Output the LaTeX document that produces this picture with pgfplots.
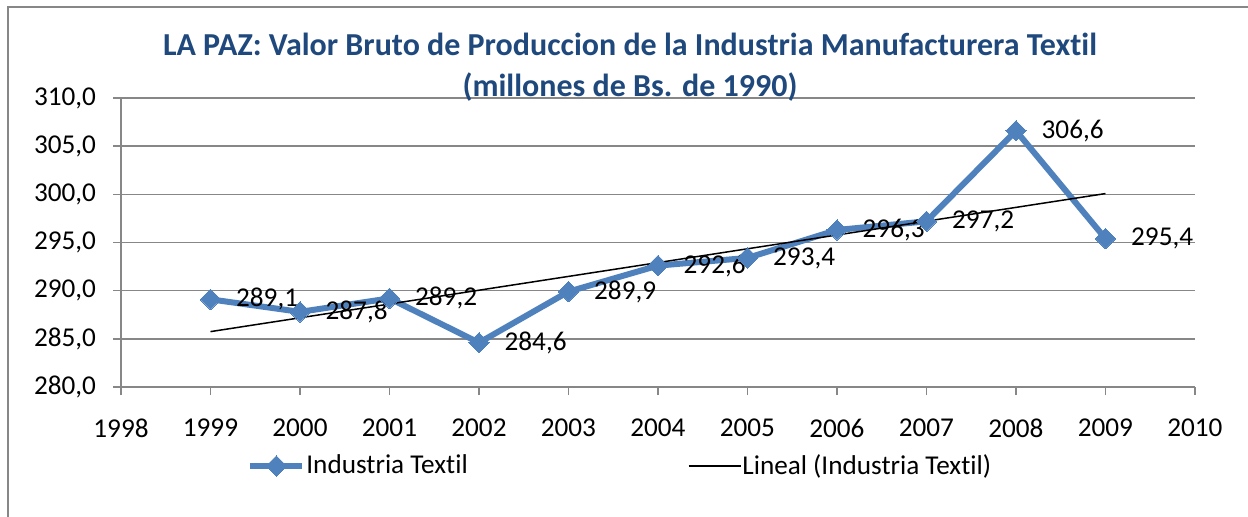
\documentclass[border=0pt]{standalone}
\usepackage{pgfplots}
\pgfplotsset{compat=1.18}
\usepackage{fontspec}
\setmainfont[Ligatures=NoCommon]{Carlito}
\definecolor{serieblue}{HTML}{4F81BD}
\definecolor{titleblue}{HTML}{1F497D}
\definecolor{gridgray}{HTML}{878787}
\begin{document}
\begin{tikzpicture}
  \begin{axis}[
      at={(0,0)}, anchor=south west,
      scale only axis,
      width=537pt, height=144.5pt,
      xmin=1998, xmax=2010,
      ymin=280, ymax=310,
      xtick={1998,1999,...,2010},
      ytick={280,285,...,310},
      axis x line*=bottom,
      axis y line*=left,
      axis line style={gridgray, line width=0.8pt, -},
      tick style={gridgray, line width=0.8pt},
      tick align=outside,
      major tick length=4pt,
      ymajorgrids,
      grid style={gridgray, line width=0.8pt},
      /pgf/number format/assume math mode=true,
      font=\fontsize{13.6}{16}\selectfont,
      xticklabel style={/pgf/number format/1000 sep={}, yshift=-8.5pt},
      yticklabel style={xshift=-5pt, /pgf/number format/.cd, fixed, fixed zerofill, precision=1, use comma},
      legend style={at={(0.1173,-0.2734)}, anchor=west, draw=none, inner sep=0pt,
        legend columns=2, font=\fontsize{13.6}{16}\selectfont,
        /tikz/every odd column/.append style={column sep=-1.5pt},
        /tikz/every even column/.append style={column sep=108pt}},
      legend cell align=left,
      legend image code/.code={\draw[mark repeat=2,mark phase=2,#1] plot coordinates {(0pt,0pt)(13pt,0pt)(26pt,0pt)};},
      clip=false,
    ]
    \addplot[serieblue, line width=3pt, mark=square*, mark size=3.6pt,
      mark options={rotate=45, line width=0pt, fill=serieblue},
      nodes near coords={\pgfmathprintnumber[fixed,fixed zerofill,precision=1,use comma]{\pgfplotspointmeta}},
      every node near coord/.append style={black, anchor=west, xshift=9.5pt, font=\fontsize{13.6}{16}\selectfont},
      point meta=explicit]
    table[meta=y] {
      x y
      1999 289.1
      2000 287.8
      2001 289.2
      2002 284.6
      2003 289.9
      2004 292.6
      2005 293.4
      2006 296.3
      2007 297.2
      2008 306.6
      2009 295.4
    };
    \addlegendentry{Industria Textil}
    \addplot[black, line width=0.75pt, no marks] coordinates {(1999,285.75) (2009,300.08)};
    \addlegendentry{Lineal (Industria Textil)}
  \end{axis}
  \node[align=center, text=titleblue, font=\bfseries\fontsize{16}{20.5}\selectfont]
    at (254.5pt,159.75pt) {LA PAZ: Valor Bruto de Produccion de la Industria Manufacturera Textil\\(millones de Bs. de 1990)};
  \draw[gridgray, line width=0.8pt] (-56.5pt,-80pt) -- (-56.5pt,190pt) -- (580pt,190pt);
  \pgfresetboundingbox
  \useasboundingbox (-60.5pt,-64.5pt) rectangle (563.5pt,193.5pt);
\end{tikzpicture}
\end{document}
